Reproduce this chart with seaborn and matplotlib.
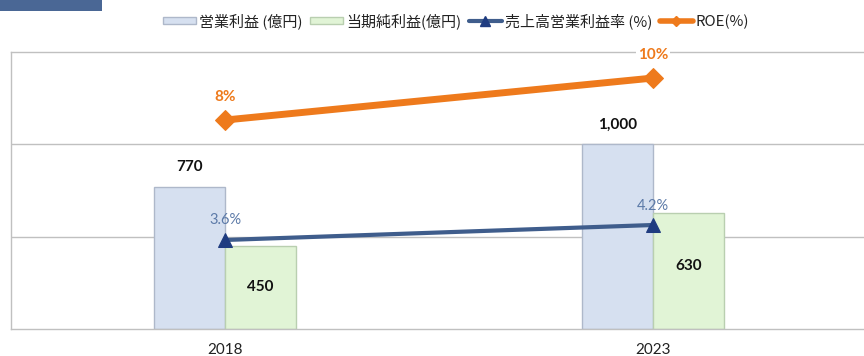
import numpy as np
import pandas as pd
import matplotlib
matplotlib.use("Agg")
import matplotlib.pyplot as plt
from matplotlib.patches import Patch, Rectangle
from matplotlib.lines import Line2D
import seaborn as sns

years = ["2018", "2023"]
op_profit = [770, 1000]
net_profit = [450, 630]
op_margin = [3.6, 4.2]
roe = [8, 10]
series_names = ["営業利益 (億円)", "当期純利益(億円)", "売上高営業利益率 (%)", "ROE(%)"]
op_labels = ["770", "1,000"]
net_labels = ["450", "630"]
margin_labels = ["3.6%", "4.2%"]
roe_labels = ["8%", "10%"]

sns.set_theme(style="white")
plt.rcParams["font.family"] = ["Noto Sans CJK JP", "DejaVu Sans"]

c_blue_bar = "#D6E0F0"
c_blue_edge = "#AEB8CA"
c_green_bar = "#E1F4D6"
c_green_edge = "#B9CFB0"
c_orange = "#EE7A1C"
c_line = "#3F5D8C"
c_tri = "#1F3C80"
c_pct = "#5C7AA8"
num_font = ["Lato", "DejaVu Sans"]

df = pd.DataFrame({
    "year": years * 2,
    "value": op_profit + net_profit,
    "metric": [series_names[0]] * len(years) + [series_names[1]] * len(years),
})

fig = plt.figure(figsize=(8.64, 3.56), dpi=100)
ax = fig.add_axes([11 / 864, 1 - 329 / 356, (867 - 11) / 864, (329 - 52) / 356])

sns.barplot(data=df, x="year", y="value", hue="metric",
            palette=[c_blue_bar, c_green_bar], width=0.332, dodge=True,
            ax=ax, legend=False, saturation=1)
for cont, ec in zip(ax.containers, [c_blue_edge, c_green_edge]):
    for p in cont:
        p.set_edgecolor(ec)
        p.set_linewidth(1.0)

ax.set_ylim(0, 1500)
ax.set_xlim(-0.5, 1.5)
ax.set_yticks([500, 1000])
ax.yaxis.grid(True, color="#C0C0C0", linewidth=1.0)
ax.set_axisbelow(True)
ax.set_xlabel("")
ax.set_ylabel("")
for s in ax.spines.values():
    s.set_color("#C0C0C0")
    s.set_linewidth(1.0)

# bar value labels
bw = 0.166
for i, (v, t) in enumerate(zip(op_profit, op_labels)):
    ax.text(i - bw / 2, v + 70, t, ha="center", va="bottom", fontsize=11,
            fontweight="bold", color="#111111", family=num_font)
for i, (v, t) in enumerate(zip(net_profit, net_labels)):
    ax.text(i + bw / 2, v * 0.5 + (5 if i == 0 else 25), t, ha="center", va="center",
            fontsize=11, fontweight="bold", color="#111111", family=num_font)

pos = np.arange(len(years))

# ROE line
ax2 = ax.twinx()
sns.lineplot(x=pos, y=roe, ax=ax2, color=c_orange, linewidth=5, marker="D",
             markersize=10, markeredgecolor=c_orange, markerfacecolor=c_orange)
ax2.set_ylim(-1.95, 11.24)
ax2.axis("off")
for i, (v, t) in enumerate(zip(roe, roe_labels)):
    ax2.text(i, v + 0.75, t, ha="center", va="bottom", fontsize=11, fontweight="bold",
             color=c_orange, family=num_font,
             bbox=dict(facecolor="white", edgecolor="none", pad=1.5) if i == 1 else None)

# operating margin line
ax3 = ax.twinx()
sns.lineplot(x=pos, y=op_margin, ax=ax3, color=c_line, linewidth=3, marker="^",
             markersize=10, markeredgecolor=c_tri, markerfacecolor=c_tri)
ax3.set_ylim(0.04, 11.12)
ax3.axis("off")
for i, (v, t) in enumerate(zip(op_margin, margin_labels)):
    ax3.text(i, v + 0.5, t, ha="center", va="bottom", fontsize=10.5,
             color=c_pct, family=num_font)
ax3.set_xlim(-0.5, 1.5)
ax2.set_xlim(-0.5, 1.5)

# ticks (after twinx, which re-enables left ticks)
ax.tick_params(axis="y", left=False, right=False, labelleft=False, length=0)
ax.tick_params(axis="x", bottom=False, length=0, labelsize=11, labelcolor="#222222", pad=10)
for lab in ax.get_xticklabels():
    lab.set_fontfamily(num_font)

# legend
handles = [
    Patch(facecolor=c_blue_bar, edgecolor=c_blue_edge),
    Patch(facecolor=c_green_bar, edgecolor=c_green_edge),
    Line2D([0], [0], color=c_line, lw=3, marker="^", markersize=7,
           markerfacecolor=c_tri, markeredgecolor=c_tri),
    Line2D([0], [0], color=c_orange, lw=4, marker="D", markersize=5,
           markerfacecolor=c_orange, markeredgecolor=c_orange),
]
leg = fig.legend(handles, series_names, loc="center", bbox_to_anchor=(456 / 864, 1 - 21 / 356),
                 ncol=4, frameon=False, fontsize=10.8, handlelength=2.2, handleheight=0.4,
                 columnspacing=0.5, handletextpad=0.2, borderpad=0.2)
for t in leg.get_texts():
    t.set_color("#222222")

# cropped title banner
fig.patches.append(Rectangle((0, 1 - 11 / 356), 102 / 864, 11 / 356,
                             transform=fig.transFigure, facecolor="#4A6795",
                             edgecolor="none", zorder=5))

fig.savefig("out.png", dpi=100)
